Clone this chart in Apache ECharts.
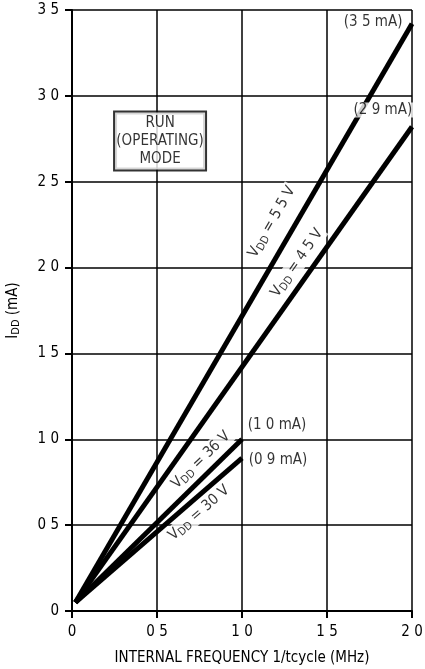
<!DOCTYPE html>
<html>
<head>
<meta charset="utf-8">
<script src="https://cdn.jsdelivr.net/npm/echarts@6/dist/echarts.min.js"></script>
<style>
html,body{margin:0;padding:0;background:#fff;}
#chart{width:425px;height:669px;}
</style>
</head>
<body>
<div id="chart"></div>
<script>
// ---- data ----
const xTickLabels = ['0', '0 5', '1 0', '1 5', '2 0'];
const yTickLabels = ['0', '0 5', '1 0', '1 5', '2 0', '2 5', '3 0', '3 5'];

const vdd55X = [0.02, 2.0];
const vdd55Y = [0.05, 3.42];
const vdd45X = [0.02, 2.0];
const vdd45Y = [0.05, 2.82];
const vdd36X = [0.02, 1.0];
const vdd36Y = [0.05, 1.0];
const vdd30X = [0.02, 1.0];
const vdd30Y = [0.05, 0.89];

const curveNames = ['5 5 V', '4 5 V', '36 V', '30 V'];
const endNotes = ['(3 5 mA)', '(2 9 mA)', '(1 0 mA)', '(0 9 mA)'];
const modeText = ['RUN', '(OPERATING)', 'MODE'];

const FONT = "'DejaVu Sans Condensed', 'Liberation Sans Narrow', 'Liberation Sans', sans-serif";

function pairs(xs, ys) { return xs.map((x, i) => [x, ys[i]]); }

const subRich = {
  n: { fontFamily: FONT, fontSize: 15, color: '#000' },
  sub: { fontFamily: FONT, fontSize: 11, color: '#000', padding: [7, 0, 0, 0] }
};

function curveSeries(xs, ys) {
  return {
    type: 'line',
    data: pairs(xs, ys),
    symbol: 'none',
    lineStyle: { color: '#000', width: 5 },
    z: 3,
    silent: true
  };
}

function vddLabel(name) {
  return '{n|V}{sub|DD}{n| = ' + name + '}';
}

const chart = echarts.init(document.getElementById('chart'), null, { renderer: 'canvas' });

const noteLabel = { fontFamily: FONT, fontSize: 15, color: '#000' };

const option = {
  backgroundColor: '#fff',
  animation: false,
  textStyle: { fontFamily: FONT, color: '#000' },
  grid: { left: 72, right: 13, top: 10, bottom: 58, containLabel: false, outerBoundsMode: 'none' },
  xAxis: {
    type: 'value', min: 0, max: 2.0, interval: 0.5,
    name: 'INTERNAL FREQUENCY 1/tcycle (MHz)',
    nameLocation: 'middle', nameGap: 40,
    nameTextStyle: { fontFamily: FONT, fontSize: 15, color: '#000' },
    axisLine: { show: true, onZero: false, lineStyle: { color: '#000', width: 2 } },
    axisTick: { show: true, inside: false, length: 7, lineStyle: { color: '#000', width: 2 } },
    axisLabel: {
      margin: 14, fontFamily: FONT, fontSize: 15, color: '#000',
      formatter: v => xTickLabels[Math.round(v / 0.5)]
    },
    splitLine: { show: true, lineStyle: { color: '#000', width: 1.5 } }
  },
  yAxis: {
    type: 'value', min: 0, max: 3.5, interval: 0.5,
    name: '{n|I}{sub|DD}{n| (mA)}',
    nameLocation: 'middle', nameGap: 50,
    nameTextStyle: { rich: subRich },
    axisLine: { show: true, onZero: false, lineStyle: { color: '#000', width: 2 } },
    axisTick: { show: true, inside: false, length: 7, lineStyle: { color: '#000', width: 2 } },
    axisLabel: {
      margin: 13, fontFamily: FONT, fontSize: 15, color: '#000',
      formatter: v => yTickLabels[Math.round(v / 0.5)]
    },
    splitLine: { show: true, lineStyle: { color: '#000', width: 1.5 } }
  },
  series: [
    curveSeries(vdd55X, vdd55Y),
    curveSeries(vdd45X, vdd45Y),
    curveSeries(vdd36X, vdd36Y),
    curveSeries(vdd30X, vdd30Y),
    {
      type: 'scatter',
      symbolSize: 0,
      silent: true,
      z: 5,
      label: {
        show: true, position: 'inside', color: '#000',
        rich: subRich, backgroundColor: '#fff', padding: [0, 2]
      },
      data: [
        { value: [1.176, 2.266], label: { formatter: vddLabel(curveNames[0]), rotate: 60 } },
        { value: [1.324, 2.027], label: { formatter: vddLabel(curveNames[1]), rotate: 55 } },
        { value: [0.759, 0.879], label: { formatter: vddLabel(curveNames[2]), rotate: 44 } },
        { value: [0.747, 0.571], label: { formatter: vddLabel(curveNames[3]), rotate: 41 } },
        { value: [1.771, 3.43], label: Object.assign({ formatter: endNotes[0] }, noteLabel) },
        { value: [1.829, 2.918], label: Object.assign({ formatter: endNotes[1] }, noteLabel) },
        { value: [1.206, 1.083], label: Object.assign({ formatter: endNotes[2], backgroundColor: 'transparent' }, noteLabel) },
        { value: [1.212, 0.879], label: Object.assign({ formatter: endNotes[3], backgroundColor: 'transparent' }, noteLabel) },
        { value: [0.518, 2.737], label: {
            formatter: modeText.join('\n'), fontFamily: FONT, fontSize: 15, color: '#000',
            lineHeight: 18, align: 'center', borderColor: '#000', borderWidth: 2,
            padding: [2, 8, 1, 8], width: 74
        } }
      ]
    }
  ]
};

chart.setOption(option);
</script>
</body>
</html>
